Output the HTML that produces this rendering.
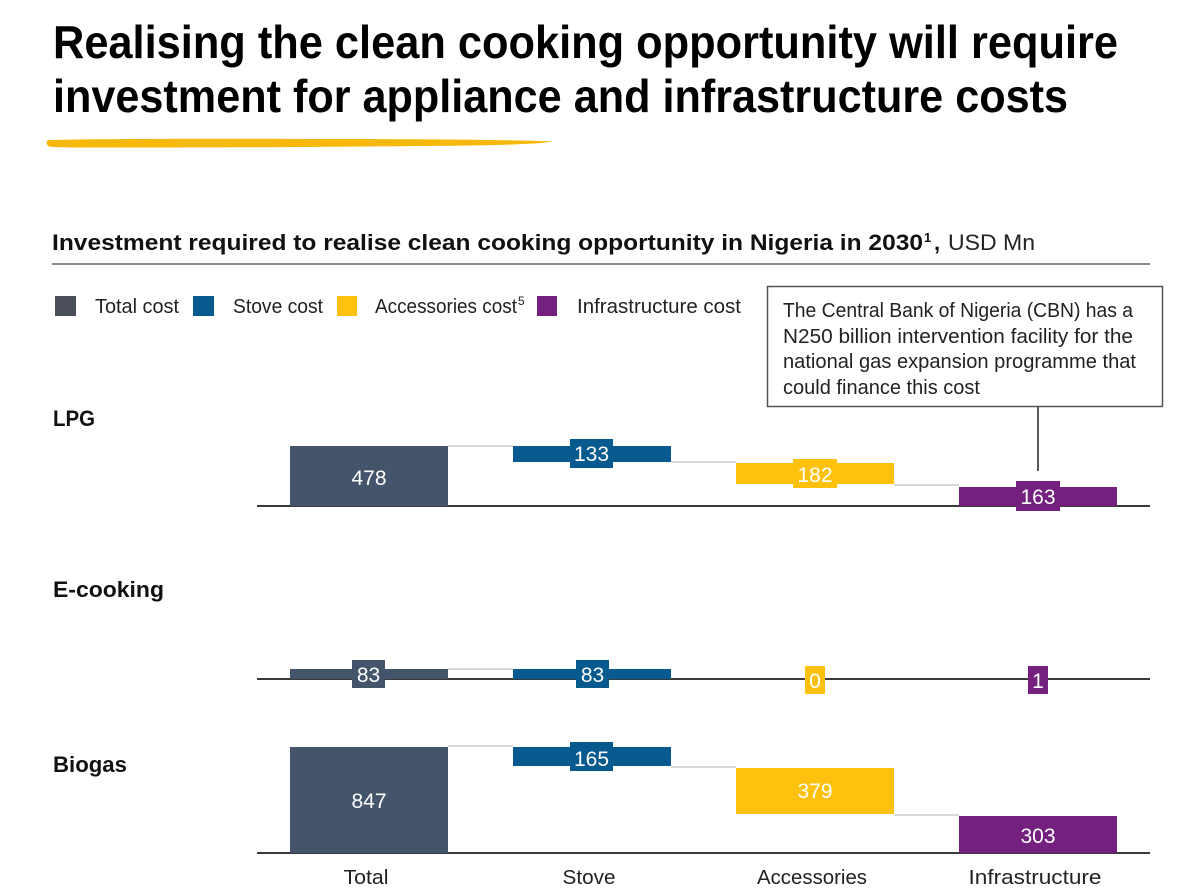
<!DOCTYPE html>
<html>
<head>
<meta charset="utf-8">
<style>
  html,body{margin:0;padding:0;background:#fff;}
  svg{display:block;}
  text{font-family:"Liberation Sans",Arial,sans-serif;}
</style>
</head>
<body>
<svg width="1193" height="892" viewBox="0 0 1193 892" xmlns="http://www.w3.org/2000/svg">
  <rect width="1193" height="892" fill="#fff"/>

  <!-- Title -->
  <text x="53" y="58" font-size="46" font-weight="bold" fill="#000" textLength="1065" lengthAdjust="spacingAndGlyphs">Realising the clean cooking opportunity will require</text>
  <text x="53" y="112" font-size="46" font-weight="bold" fill="#000" textLength="1015" lengthAdjust="spacingAndGlyphs">investment for appliance and infrastructure costs</text>

  <!-- Yellow brush underline -->
  <path d="M48,140 C120,138.5 220,138.5 320,139 C420,139 500,139.5 553,141.5 C540,144 500,145.5 420,146 C300,147.5 180,147.5 90,147.5 C70,147.5 55,147.5 49,146.5 C46,145 46,141 48,140 Z" fill="#F6B90B"/>

  <!-- Subtitle -->
  <text x="52" y="250" font-size="22" font-weight="bold" fill="#111" textLength="871" lengthAdjust="spacingAndGlyphs">Investment required to realise clean cooking opportunity in Nigeria in 2030</text>
  <text x="924" y="242" font-size="13" font-weight="bold" fill="#111">1</text>
  <text x="934" y="250" font-size="22" font-weight="bold" fill="#111">,</text>
  <text x="948" y="250" font-size="22" fill="#222" textLength="87" lengthAdjust="spacingAndGlyphs">USD Mn</text>
  <rect x="52" y="263" width="1098" height="2" fill="#8a8a8a"/>

  <!-- Legend -->
  <rect x="55" y="296" width="21" height="20" fill="#4A4F5A"/>
  <text x="95" y="313" font-size="20.5" fill="#222" textLength="84" lengthAdjust="spacingAndGlyphs">Total cost</text>
  <rect x="193" y="296" width="21" height="20" fill="#065A8E"/>
  <text x="233" y="313" font-size="20.5" fill="#222" textLength="90" lengthAdjust="spacingAndGlyphs">Stove cost</text>
  <rect x="337" y="296" width="20" height="20" fill="#FDC10E"/>
  <text x="375" y="313" font-size="20.5" fill="#222" textLength="142" lengthAdjust="spacingAndGlyphs">Accessories cost</text>
  <text x="518" y="305" font-size="12" fill="#222">5</text>
  <rect x="537" y="296" width="20" height="20" fill="#73207F"/>
  <text x="577" y="313" font-size="20.5" fill="#222" textLength="164" lengthAdjust="spacingAndGlyphs">Infrastructure cost</text>

  <!-- Callout -->
  <rect x="767.5" y="286.5" width="395" height="120" fill="#fff" stroke="#555" stroke-width="1.5"/>
  <text x="783" y="317" font-size="20" fill="#222" textLength="350" lengthAdjust="spacingAndGlyphs">The Central Bank of Nigeria (CBN) has a</text>
  <text x="783" y="343" font-size="20" fill="#222" textLength="350" lengthAdjust="spacingAndGlyphs">N250 billion intervention facility for the</text>
  <text x="783" y="368" font-size="20" fill="#222" textLength="353" lengthAdjust="spacingAndGlyphs">national gas expansion programme that</text>
  <text x="783" y="394" font-size="20" fill="#222" textLength="197" lengthAdjust="spacingAndGlyphs">could finance this cost</text>
  <line x1="1038" y1="407" x2="1038" y2="471" stroke="#222" stroke-width="1.5"/>

  <!-- Row labels -->
  <text x="53" y="426" font-size="22.5" font-weight="bold" fill="#111" textLength="42" lengthAdjust="spacingAndGlyphs">LPG</text>
  <text x="53" y="597" font-size="22.5" font-weight="bold" fill="#111" textLength="111" lengthAdjust="spacingAndGlyphs">E-cooking</text>
  <text x="53" y="772" font-size="22.5" font-weight="bold" fill="#111" textLength="74" lengthAdjust="spacingAndGlyphs">Biogas</text>

  <!-- ============ LPG ============ -->
  <g>
    <line x1="448" y1="446" x2="513" y2="446" stroke="#D9D9D9" stroke-width="2"/>
    <line x1="671" y1="462" x2="736" y2="462" stroke="#D9D9D9" stroke-width="2"/>
    <line x1="894" y1="485" x2="959" y2="485" stroke="#D9D9D9" stroke-width="2"/>
    <rect x="257" y="505" width="893" height="2" fill="#3a3a3a"/>
    <rect x="290" y="446" width="158" height="60" fill="#44546A"/>
    <text x="369" y="485" font-size="21" fill="#fff" text-anchor="middle">478</text>
    <rect x="513" y="446" width="158" height="16" fill="#065A8E"/>
    <rect x="570" y="439" width="43" height="29" fill="#065A8E"/>
    <text x="591.5" y="461" font-size="21" fill="#fff" text-anchor="middle">133</text>
    <rect x="736" y="463" width="158" height="21" fill="#FDC10E"/>
    <rect x="793" y="459" width="44" height="29" fill="#FDC10E"/>
    <text x="815" y="482" font-size="21" fill="#fff" text-anchor="middle">182</text>
    <rect x="959" y="487" width="158" height="19" fill="#73207F"/>
    <rect x="1016" y="481" width="44" height="30" fill="#73207F"/>
    <text x="1038" y="504" font-size="21" fill="#fff" text-anchor="middle">163</text>
  </g>

  <!-- ============ E-cooking ============ -->
  <g>
    <line x1="448" y1="669" x2="513" y2="669" stroke="#D9D9D9" stroke-width="2"/>
    <rect x="257" y="678" width="893" height="2" fill="#3a3a3a"/>
    <rect x="290" y="669" width="158" height="10" fill="#44546A"/>
    <rect x="352" y="660" width="33" height="28" fill="#44546A"/>
    <text x="368.5" y="682" font-size="21" fill="#fff" text-anchor="middle">83</text>
    <rect x="513" y="669" width="158" height="10" fill="#065A8E"/>
    <rect x="576" y="660" width="33" height="28" fill="#065A8E"/>
    <text x="592.5" y="682" font-size="21" fill="#fff" text-anchor="middle">83</text>
    <rect x="805" y="666" width="20" height="28" fill="#FDC10E"/>
    <text x="815" y="688" font-size="21" fill="#fff" text-anchor="middle">0</text>
    <rect x="1028" y="666" width="20" height="28" fill="#73207F"/>
    <text x="1038" y="688" font-size="21" fill="#fff" text-anchor="middle">1</text>
  </g>

  <!-- ============ Biogas ============ -->
  <g>
    <line x1="448" y1="746" x2="513" y2="746" stroke="#D9D9D9" stroke-width="2"/>
    <line x1="671" y1="767" x2="736" y2="767" stroke="#D9D9D9" stroke-width="2"/>
    <line x1="894" y1="815" x2="959" y2="815" stroke="#D9D9D9" stroke-width="2"/>
    <rect x="257" y="852" width="893" height="2" fill="#3a3a3a"/>
    <rect x="290" y="747" width="158" height="106" fill="#44546A"/>
    <text x="369" y="808" font-size="21" fill="#fff" text-anchor="middle">847</text>
    <rect x="513" y="747" width="158" height="19" fill="#065A8E"/>
    <rect x="570" y="742" width="43" height="29" fill="#065A8E"/>
    <text x="591.5" y="766" font-size="21" fill="#fff" text-anchor="middle">165</text>
    <rect x="736" y="768" width="158" height="46" fill="#FDC10E"/>
    <text x="815" y="798" font-size="21" fill="#fff" text-anchor="middle">379</text>
    <rect x="959" y="816" width="158" height="37" fill="#73207F"/>
    <text x="1038" y="843" font-size="21" fill="#fff" text-anchor="middle">303</text>
  </g>

  <!-- Category labels -->
  <text x="366" y="884" font-size="20.5" fill="#222" text-anchor="middle" textLength="45" lengthAdjust="spacingAndGlyphs">Total</text>
  <text x="589" y="884" font-size="20.5" fill="#222" text-anchor="middle" textLength="53" lengthAdjust="spacingAndGlyphs">Stove</text>
  <text x="812" y="884" font-size="20.5" fill="#222" text-anchor="middle" textLength="110" lengthAdjust="spacingAndGlyphs">Accessories</text>
  <text x="1035" y="884" font-size="20.5" fill="#222" text-anchor="middle" textLength="133" lengthAdjust="spacingAndGlyphs">Infrastructure</text>
</svg>
</body>
</html>
